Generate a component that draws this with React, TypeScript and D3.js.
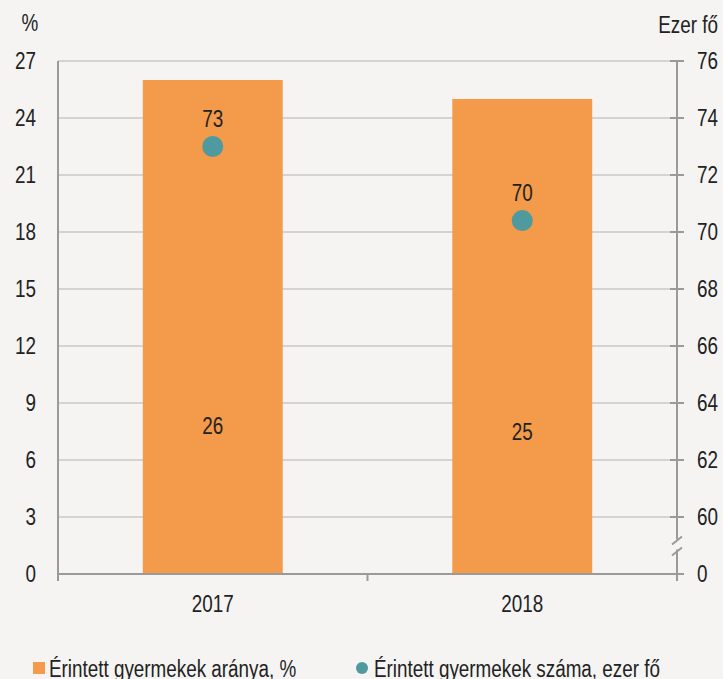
import React, { useEffect, useRef } from 'react';
import * as d3 from 'd3';

// data
const years = ['2017', '2018'];
const shareValues = [26, 25]; // Érintett gyermekek aránya, %
const countValues = [73, 70.4]; // Érintett gyermekek száma, ezer fő
const countLabels = ['73', '70'];
const leftTicks = [0, 3, 6, 9, 12, 15, 18, 21, 24, 27];
const rightTicks = [60, 62, 64, 66, 68, 70, 72, 74, 76];

const W = 723;
const H = 679;
const FONT = '"Liberation Sans", Arial, sans-serif';
const FS = 23;
const SX = 0.82; // squeeze to imitate the narrow font of the original
const BAR = '#f39a4b';
const DOT = '#4f9a9f';
const TEXT = '#222';

// narrow text: position with translate, then squeeze horizontally
function label(g, x, y, str, anchor = 'start', dy = '0') {
  return g.append('text')
    .attr('transform', `translate(${x},${y}) scale(${SX},1)`)
    .attr('dy', dy)
    .attr('text-anchor', anchor)
    .attr('font-family', FONT)
    .attr('font-size', FS)
    .attr('fill', TEXT)
    .text(str);
}

export default function App() {
  const svgRef = useRef(null);

  useEffect(() => {
    const svg = d3.select(svgRef.current);
    svg.selectAll('*').remove();

    const margin = { top: 61, right: 46, bottom: 105, left: 58 };
    const x0 = margin.left;
    const x1 = W - margin.right;
    const yBottom = H - margin.bottom;

    svg.append('rect').attr('width', W).attr('height', H).attr('fill', '#f5f4f2');

    const x = d3.scaleBand().domain(years).range([x0, x1]).paddingInner(0.548).paddingOuter(0.274);
    const y = d3.scaleLinear().domain([0, 27]).range([yBottom, margin.top]);
    // right axis: 60..76 sits on the left's 3..27, with 0 at the bottom (broken axis)
    const yR = d3.scaleLinear().domain([60, 76]).range([y(3), y(27)]);
    const cx = d => x(d) + x.bandwidth() / 2;

    // gridlines
    svg.append('g')
      .selectAll('line')
      .data(leftTicks.filter(t => t > 0))
      .join('line')
      .attr('x1', x0).attr('x2', x1)
      .attr('y1', d => y(d)).attr('y2', d => y(d))
      .attr('stroke', '#c9c9c9').attr('stroke-width', 1.5);

    // bars
    svg.append('g')
      .selectAll('rect')
      .data(years)
      .join('rect')
      .attr('x', d => x(d))
      .attr('width', x.bandwidth())
      .attr('y', (d, i) => y(shareValues[i]))
      .attr('height', (d, i) => y(0) - y(shareValues[i]))
      .attr('fill', BAR);

    // bar labels (low inside the bar)
    const barLabels = svg.append('g');
    years.forEach((d, i) => label(barLabels, cx(d), y(shareValues[i] * 0.3), shareValues[i], 'middle', '0.35em'));

    // axes lines
    const axisColor = '#9a9a9a';
    const axes = svg.append('g').attr('stroke', axisColor).attr('stroke-width', 2);
    axes.append('line').attr('x1', x0).attr('x2', x0).attr('y1', margin.top).attr('y2', yBottom + 7);
    axes.append('line').attr('x1', x1).attr('x2', x1).attr('y1', margin.top).attr('y2', yBottom + 7);
    axes.append('line').attr('x1', x0).attr('x2', x1).attr('y1', yBottom).attr('y2', yBottom);
    // category separator tick
    const sep = x(years[1]) - x.step() * x.paddingInner() / 2;
    axes.append('line').attr('x1', sep).attr('x2', sep).attr('y1', yBottom).attr('y2', yBottom + 7);

    // right ticks
    const rTickYs = [...rightTicks.map(t => yR(t)), y(0)];
    axes.selectAll('.rtick')
      .data(rTickYs)
      .join('line')
      .attr('class', 'rtick')
      .attr('x1', x1 - 7).attr('x2', x1 + 7)
      .attr('y1', d => d).attr('y2', d => d);

    // axis break
    const brk = (y(3) + y(0)) / 2;
    svg.append('rect').attr('x', x1 - 3).attr('y', brk - 6).attr('width', 6).attr('height', 10).attr('fill', '#f5f4f2');
    [-5, 6].forEach(off => {
      svg.append('line')
        .attr('x1', x1 - 5).attr('x2', x1 + 5)
        .attr('y1', brk + off + 4).attr('y2', brk + off - 4)
        .attr('stroke', axisColor).attr('stroke-width', 2);
    });

    // left tick labels
    const lt = svg.append('g');
    leftTicks.forEach(t => label(lt, 36, y(t), t, 'end', '0.35em'));

    // right tick labels
    const rt = svg.append('g');
    rightTicks.forEach(t => label(rt, 697, yR(t), t, 'start', '0.35em'));
    label(rt, 697, y(0), 0, 'start', '0.35em');

    // units
    label(svg, 30, 31, '%', 'middle');
    label(svg, 718, 33, 'Ezer fő', 'end');

    // category labels
    const cl = svg.append('g');
    years.forEach(d => label(cl, cx(d), yBottom + 38, d, 'middle'));

    // dots + labels
    svg.append('g')
      .selectAll('circle')
      .data(years)
      .join('circle')
      .attr('cx', cx)
      .attr('cy', (d, i) => yR(countValues[i]))
      .attr('r', 10.5)
      .attr('fill', DOT);

    const dl = svg.append('g');
    years.forEach((d, i) => label(dl, cx(d), yR(countValues[i]) - 20, countLabels[i], 'middle'));

    // legend
    const leg = svg.append('g');
    leg.append('rect').attr('x', 33).attr('y', 662).attr('width', 12).attr('height', 12).attr('fill', BAR);
    label(leg, 49, 677, 'Érintett gyermekek aránya, %');
    leg.append('circle').attr('cx', 362).attr('cy', 668).attr('r', 6).attr('fill', DOT);
    label(leg, 374, 677, 'Érintett gyermekek száma, ezer fő');
  }, []);

  return (
    <svg
      ref={svgRef}
      width={W}
      height={H}
      style={{ position: 'absolute', left: 0, top: 0, display: 'block' }}
    />
  );
}
